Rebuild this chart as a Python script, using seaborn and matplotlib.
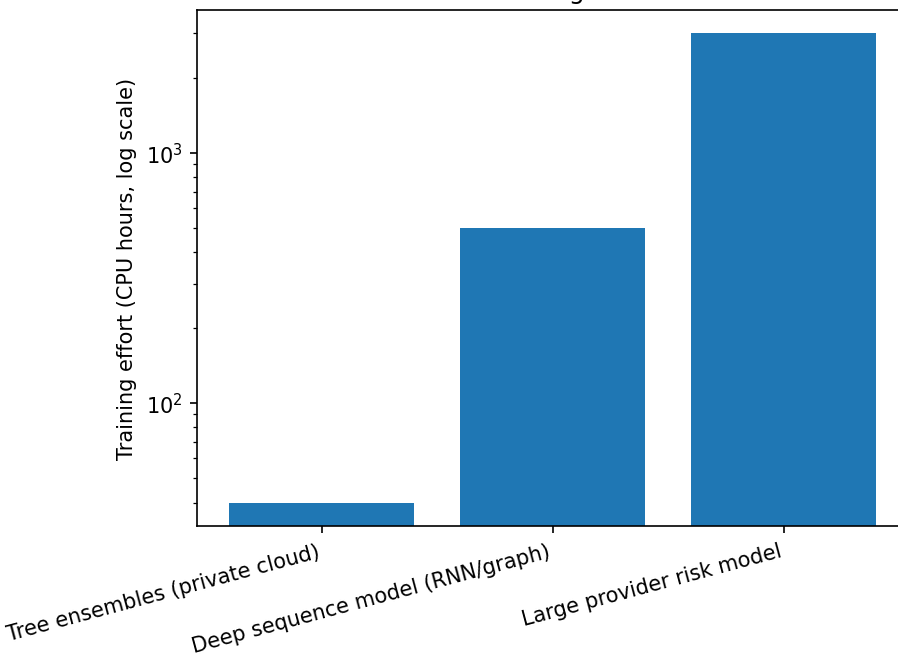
import numpy as np
import pandas as pd
import matplotlib
matplotlib.use("Agg")
import matplotlib.pyplot as plt
import seaborn as sns

models = [
    "Tree ensembles (private cloud)",
    "Deep sequence model (RNN/graph)",
    "Large provider risk model",
]
cpu_hours = [40, 500, 3000]

df = pd.DataFrame({"model": models, "cpu_hours": cpu_hours})

W, H, DPI = 898, 655, 150
fig = plt.figure(figsize=(W / DPI, H / DPI), dpi=DPI)
ax = fig.add_axes([197 / W, 128 / H, 711.5 / W, 516 / H])
ax.set_yscale("log")

sns.barplot(data=df, x="model", y="cpu_hours", color="#1f77b4",
            saturation=1, width=0.8, ax=ax)

# log-scale limits with the usual 5% margin around the data
lo, hi = np.log10(min(cpu_hours)), np.log10(max(cpu_hours))
span = hi - lo
ax.set_ylim(10 ** (lo - 0.05 * span), 10 ** (hi + 0.05 * span))
ax.set_xlim(-0.54, len(models) - 1 + 0.54)

ax.set_title("ML training effort", fontsize=12, pad=6)
ax.set_xlabel("")
ax.set_ylabel("Training effort (CPU hours, log scale)", fontsize=10)
for lab in ax.get_xticklabels():
    lab.set_rotation(15)
    lab.set_ha("right")
ax.tick_params(labelsize=10)

fig.savefig("out.png", dpi=DPI)
